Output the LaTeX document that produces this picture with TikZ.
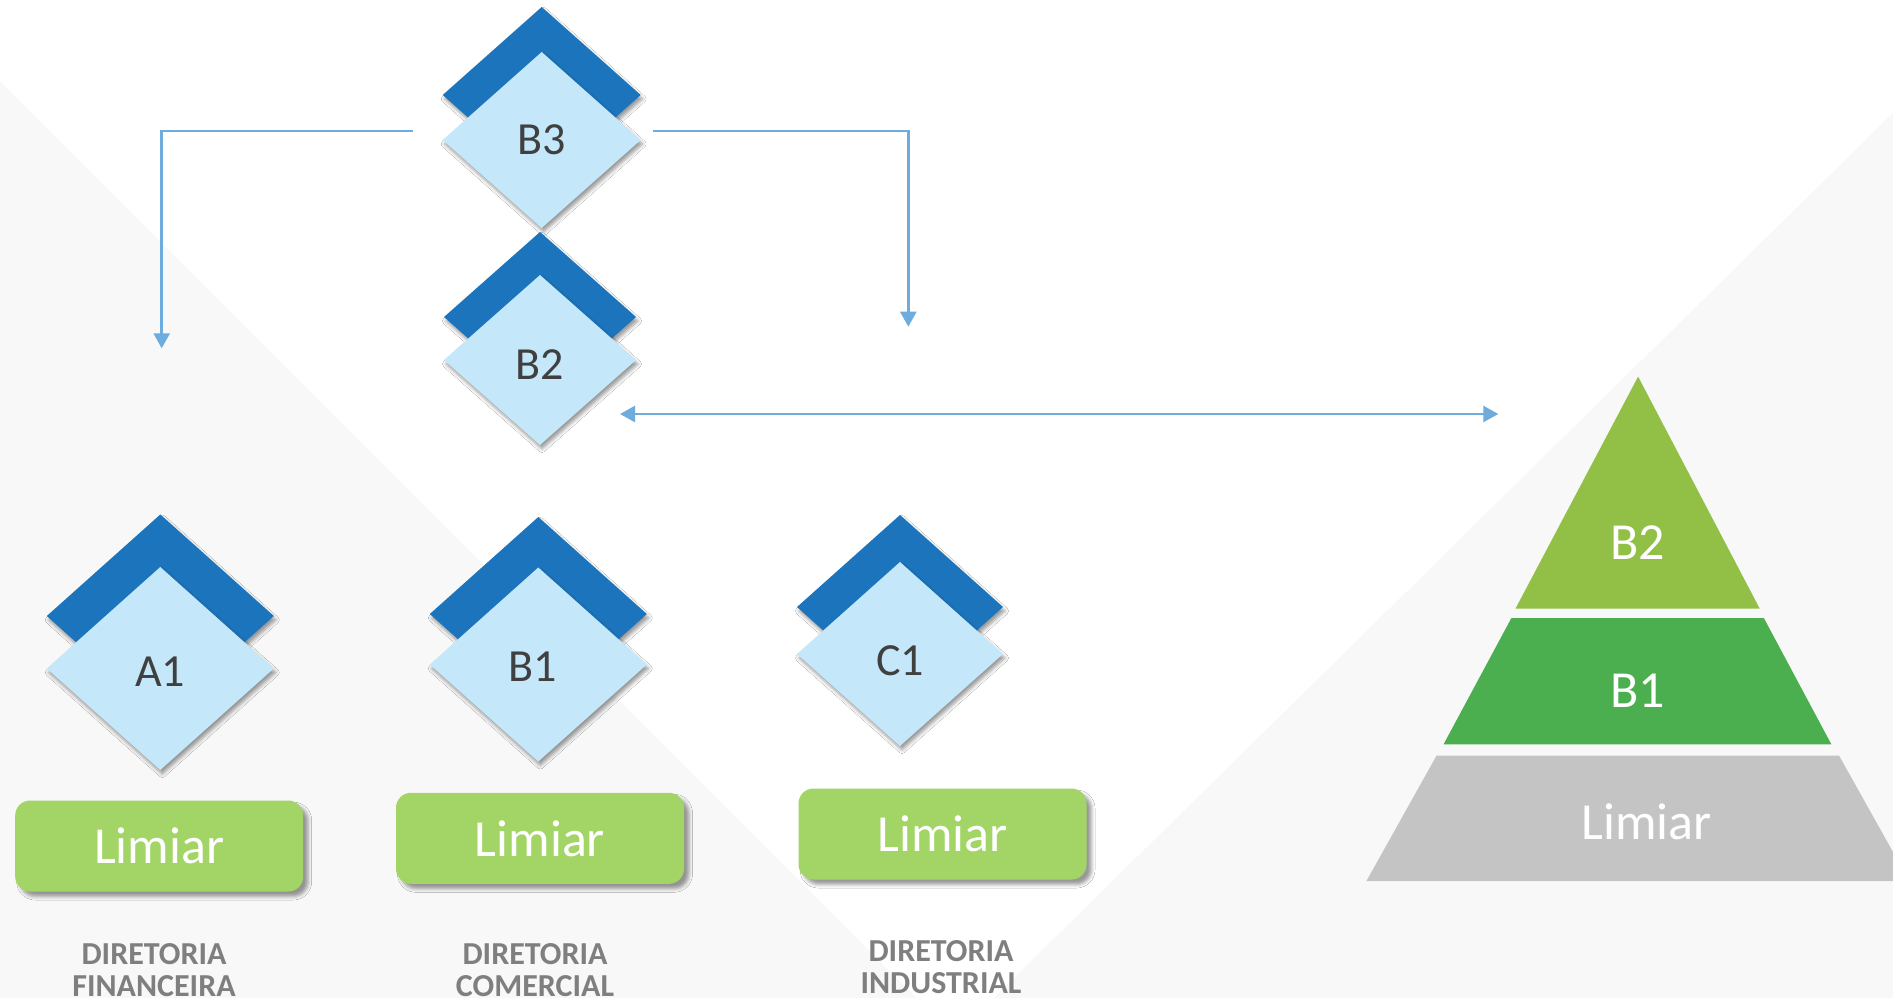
\documentclass[tikz,border=0pt]{standalone}
\usepackage{fontspec}
\setmainfont{Carlito}
\usetikzlibrary{shapes.geometric,arrows.meta,shadows.blur}
\definecolor{bggray}{HTML}{F8F8F8}
\definecolor{dkblue}{HTML}{1C75BC}
\definecolor{ltblue}{HTML}{C5E7FA}
\definecolor{txtgray}{HTML}{404040}
\definecolor{lblgray}{HTML}{7F7F7F}
\definecolor{limegreen}{HTML}{A2D566}
\definecolor{pyrtop}{HTML}{92C046}
\definecolor{pyrmid}{HTML}{4BAE4F}
\definecolor{pyrbot}{HTML}{C4C4C4}
\definecolor{lineblue}{HTML}{6DACDD}
\begin{document}
\begin{tikzpicture}[x=1pt,y=-1pt,
  dshadow/.style={blur shadow={shadow xshift=2pt,shadow yshift=-4pt,shadow blur radius=3.5pt,shadow opacity=40}},
  backdia/.style={shape=diamond,fill=dkblue,inner sep=0pt,outer sep=0pt,dshadow},
  frontdia/.style={shape=diamond,fill=ltblue,inner sep=0pt,outer sep=0pt,dshadow},
  diatext/.style={inner sep=0pt,text=txtgray,font=\fontsize{46}{54}\selectfont},
  limbox/.style={rectangle,rounded corners=15pt,fill=limegreen,text=white,inner sep=0pt,
     minimum width=288pt,minimum height=91pt,font=\fontsize{52}{60}\selectfont,
     blur shadow={shadow xshift=5pt,shadow yshift=-5pt,shadow blur radius=3.5pt,shadow opacity=40}},
  dirlabel/.style={anchor=north,align=center,inner sep=0pt,text=lblgray,
     font=\bfseries\fontsize{32}{32}\selectfont},
  pyrtext/.style={text=white,inner sep=0pt,font=\fontsize{52}{60}\selectfont},
  conn/.style={draw=lineblue,line width=2.5pt,-{Triangle[length=15pt,width=16pt]}},
  dconn/.style={draw=lineblue,line width=2.5pt,{Triangle[length=15pt,width=16pt]}-{Triangle[length=15pt,width=16pt]}}
]
\useasboundingbox (0,0) rectangle (1893,998);
\clip (0,0) rectangle (1893,998);
\fill[white] (0,0) rectangle (1893,998);
% background panels
\fill[bggray] (0,82) -- (916,998) -- (0,998) -- cycle;
\fill[bggray] (1893,113) -- (993.7,998) -- (1893,998) -- cycle;

% diamonds
\node[backdia,minimum width=198pt,minimum height=176pt] (B3back) at (541.7,95) {};
\node[frontdia,minimum width=198pt,minimum height=176pt] (B3) at (541.7,140) {};
\node[diatext] (B3t) at (541.7,140) {B3};
\node[backdia,minimum width=192pt,minimum height=170pt] (B2back) at (540,317) {};
\node[frontdia,minimum width=192pt,minimum height=170pt] (B2) at (540,360) {};
\node[diatext] (B2t) at (540,365) {B2};
\node[backdia,minimum width=227pt,minimum height=203pt] (A1back) at (160.3,616) {};
\node[frontdia,minimum width=227pt,minimum height=203pt] (A1) at (160.3,668.5) {};
\node[diatext] (A1t) at (160.3,671.5) {A1};
\node[backdia,minimum width=217pt,minimum height=194pt] (B1back) at (538.3,614) {};
\node[frontdia,minimum width=217pt,minimum height=194pt] (B1) at (538.3,664.5) {};
\node[diatext] (B1t) at (533,667) {B1};
\node[backdia,minimum width=206pt,minimum height=184pt] (C1back) at (900,607) {};
\node[frontdia,minimum width=206pt,minimum height=184pt] (C1) at (900,654) {};
\node[diatext] (C1t) at (900,661) {C1};

% Limiar boxes
\node[limbox] (LA) at (159.2,846) {Limiar};
\node[limbox] (LB) at (540,838.3) {Limiar};
\node[limbox] (LC) at (942.5,834) {Limiar};

% labels
\node[dirlabel] (DA) at (154,943) {DIRETORIA\\FINANCEIRA};
\node[dirlabel] (DB) at (535,943) {DIRETORIA\\COMERCIAL};
\node[dirlabel] (DC) at (941,940) {DIRETORIA\\INDUSTRIAL};

% connectors
\coordinate (Lc) at (161.7,131);
\coordinate (Le) at (161.7,348.3);
\coordinate (Rc) at (908.3,131);
\coordinate (Re) at (908.3,326.7);
\coordinate (Ds) at (620,414);
\coordinate (De) at (1498.3,414);
\draw[conn] ([xshift=-30pt,yshift=9pt]B3.west) -- (Lc) -- (Le);
\draw[conn] ([xshift=12pt,yshift=9pt]B3.east) -- (Rc) -- (Re);
\draw[dconn] (Ds) -- (De);

% pyramid
\fill[pyrtop] (1638.1,376.6) -- (1759.7,608.6) -- (1515.5,608.6) -- cycle;
\fill[pyrmid] (1511.4,618) -- (1763.8,618) -- (1831.4,744.4) -- (1443.5,744.4) -- cycle;
\fill[pyrbot] (1436.6,755.5) -- (1839,755.5) -- (1909.3,881.2) -- (1366.3,881.2) -- cycle;
\node[pyrtext] (PB2) at (1638,542.3) {B2};
\node[pyrtext] (PB1) at (1638,691) {B1};
\node[pyrtext] (PL) at (1646.6,821.6) {Limiar};
\end{tikzpicture}
\end{document}
